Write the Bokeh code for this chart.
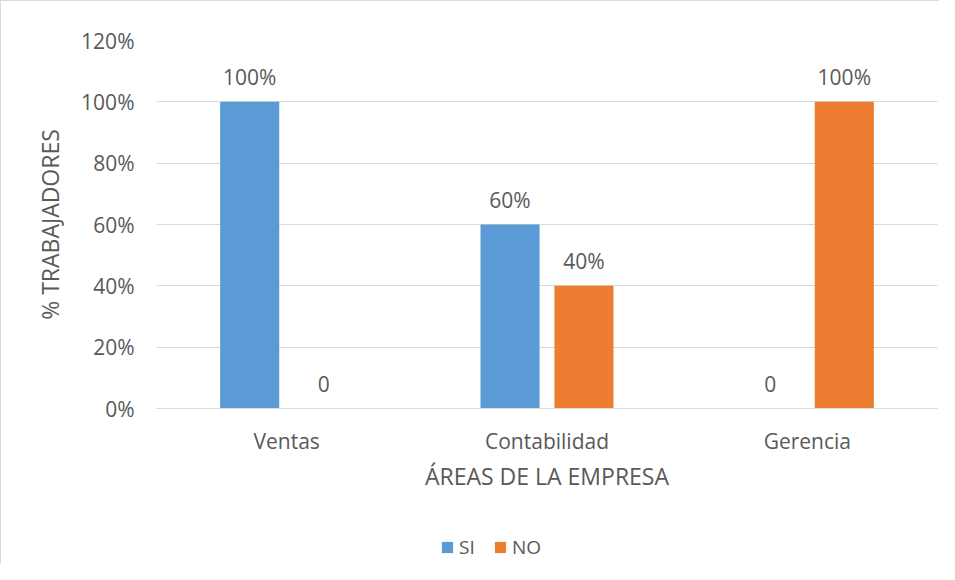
from bokeh.plotting import figure
from bokeh.layouts import column
from bokeh.models import (ColumnDataSource, FactorRange, FixedTicker, NumeralTickFormatter,
                          LabelSet, Legend, LegendItem)
from bokeh.core.properties import value
from bokeh.transform import dodge
from bokeh.embed import file_html
from bokeh.resources import INLINE

categories = ["Ventas", "Contabilidad", "Gerencia"]
series = ["SI", "NO"]
si_values = [1.0, 0.6, 0.0]
no_values = [0.0, 0.4, 1.0]
y_ticks = [0, 0.2, 0.4, 0.6, 0.8, 1.0, 1.2]
colors = ["#5B9BD5", "#ED7D31"]

def lab(v):
    return f"{round(v*100)}%" if v > 0 else "0"

src = ColumnDataSource(dict(
    cat=categories, si=si_values, no=no_values,
    si_lab=[lab(v) for v in si_values], no_lab=[lab(v) for v in no_values],
))

FONT = "Open Sans"
TXT = "#595959"
BORDER = "1px solid #d9d9d9"

p = figure(x_range=FactorRange(*categories, range_padding=0), y_range=(0, 1.2),
           width=939, height=510, output_backend="svg", toolbar_location=None,
           min_border_left=155, min_border_right=3, min_border_top=39, min_border_bottom=103)
p.styles = {"border-left": BORDER, "border-top": BORDER}
p.outline_line_color = None

off = 0.142
w = 0.227
p.vbar(x=dodge("cat", -off, range=p.x_range), top="si", width=w, source=src,
       fill_color=colors[0], line_color=None)
p.vbar(x=dodge("cat", off, range=p.x_range), top="no", width=w, source=src,
       fill_color=colors[1], line_color=None)

for col, o in (("si_lab", -off), ("no_lab", off)):
    p.add_layout(LabelSet(x=dodge("cat", o, range=p.x_range), y=col.split("_")[0], text=col,
                          source=src, y_offset=25, text_align="center", text_baseline="middle",
                          text_font=value(FONT), text_font_size="21px", text_color=TXT))

p.yaxis.ticker = FixedTicker(ticks=y_ticks)
p.yaxis.formatter = NumeralTickFormatter(format="0%")
p.ygrid.grid_line_color = "#d9d9d9"
p.ygrid.grid_line_width = 1
p.xgrid.grid_line_color = None

for ax in (p.xaxis, p.yaxis):
    ax.major_tick_line_color = None
    ax.minor_tick_line_color = None
    ax.major_label_text_font = FONT
    ax.major_label_text_font_size = "21px"
    ax.major_label_text_color = TXT
    ax.axis_label_text_font = FONT
    ax.axis_label_text_font_size = "23px"
    ax.axis_label_text_color = TXT
    ax.axis_label_text_font_style = "normal"
p.yaxis.axis_line_color = None
p.xaxis.axis_line_color = "#d9d9d9"
p.yaxis.major_label_standoff = 16
p.xaxis.major_label_standoff = 12
p.yaxis.axis_label = "% TRABAJADORES"
p.xaxis.axis_label = "ÁREAS DE LA EMPRESA"
p.yaxis.axis_label_standoff = 12
p.xaxis.axis_label_standoff = 2

# legend strip (swatch renderers are zero-size, so only the legend shows)
p2 = figure(width=939, height=54, x_range=(0, 1), y_range=(0, 1), output_backend="svg",
            toolbar_location=None, min_border=0)
p2.styles = {"border-left": BORDER}
p2.axis.visible = False
p2.grid.visible = False
p2.outline_line_color = None
d1 = p2.vbar(x=[0.5], top=[0.5], bottom=[0.5], width=0, fill_color=colors[0], line_color=None)
d2 = p2.vbar(x=[0.5], top=[0.5], bottom=[0.5], width=0, fill_color=colors[1], line_color=None)
legend = Legend(items=[LegendItem(label=series[0], renderers=[d1]),
                       LegendItem(label=series[1], renderers=[d2])],
                orientation="horizontal", location=(284, 4), glyph_width=14, glyph_height=14,
                label_standoff=5, spacing=14, padding=0, margin=0, border_line_color=None,
                background_fill_alpha=0, label_text_font=FONT, label_text_font_size="19px",
                label_text_color=TXT, label_height=20)
p2.add_layout(legend, "center")

layout = column(p, p2, spacing=0)
open("out.html", "w").write(file_html(layout, INLINE))
